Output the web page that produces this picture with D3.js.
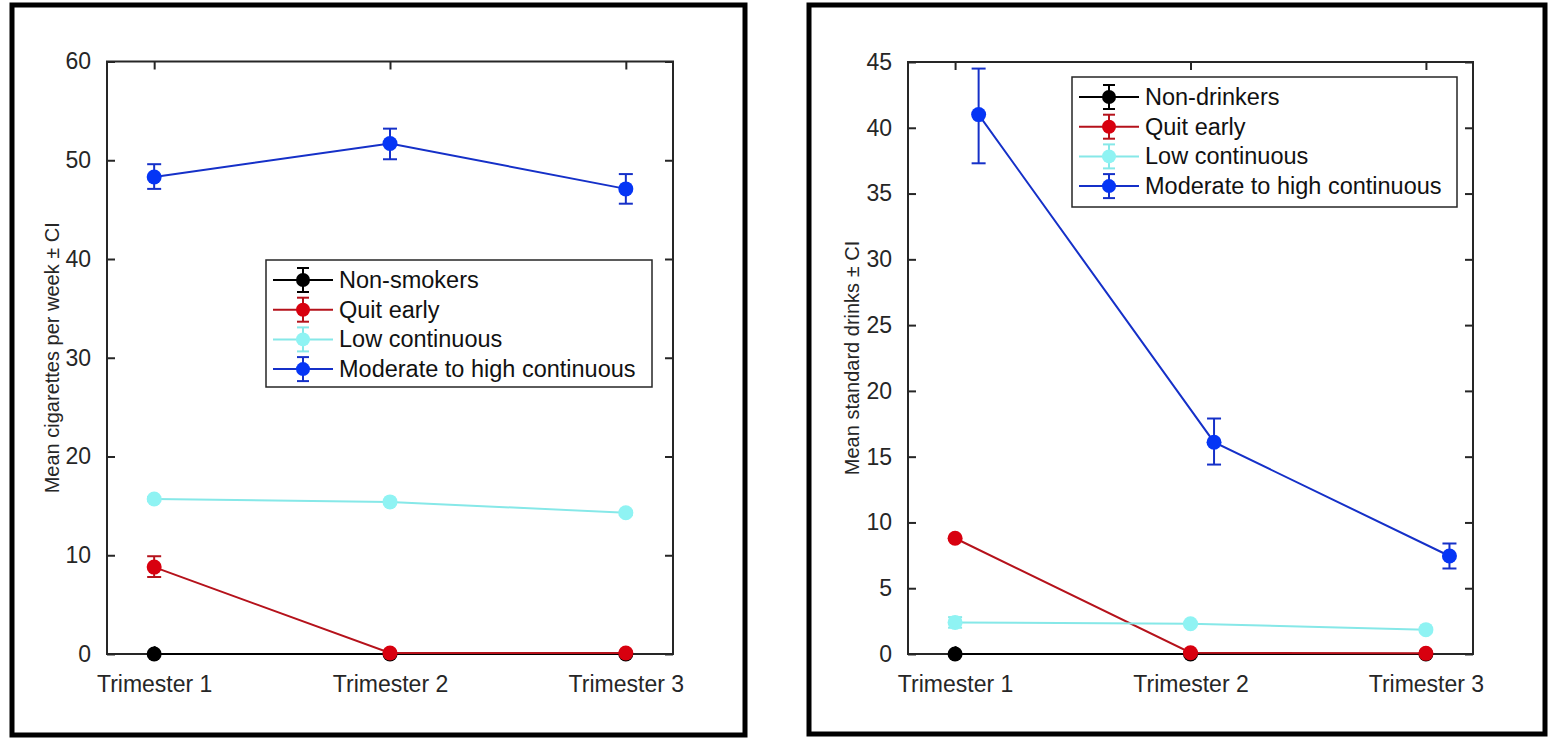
<!DOCTYPE html>
<html>
<head>
<meta charset="utf-8">
<script src="https://cdn.jsdelivr.net/npm/d3@7"></script>
<style>
  html, body { margin: 0; padding: 0; background: #fff; }
  svg { display: block; font-family: "Liberation Sans", Arial, Helvetica, sans-serif; }
</style>
</head>
<body>
<svg id="chart" width="1556" height="742"></svg>
<script>
// ---------- data ----------
const trimesters = ["Trimester 1", "Trimester 2", "Trimester 3"];
const smokingGroups = ["Non-smokers", "Quit early", "Low continuous", "Moderate to high continuous"];
const drinkingGroups = ["Non-drinkers", "Quit early", "Low continuous", "Moderate to high continuous"];

// cigarettes per week: means and CI bounds per group (rows) per trimester (cols)
const cigMeans = [[0, 0, 0], [8.8, 0.1, 0.1], [15.7, 15.4, 14.3], [48.3, 51.7, 47.1]];
const cigLower = [[0, 0, 0], [7.8, 0.05, 0.05], [15.5, 15.2, 14.1], [47.1, 50.1, 45.6]];
const cigUpper = [[0, 0, 0], [9.9, 0.15, 0.15], [15.9, 15.6, 14.5], [49.6, 53.2, 48.6]];
const cigXOffset = [0, 0, 0, 0];
const cigTicks = [0, 10, 20, 30, 40, 50, 60];

// standard drinks
const drinkMeans = [[0, 0, 0], [8.8, 0.1, 0.05], [2.4, 2.3, 1.85], [41.0, 16.1, 7.45]];
const drinkLower = [[0, 0, 0], [8.7, 0.05, 0.02], [2.0, 2.2, 1.75], [37.3, 14.4, 6.5]];
const drinkUpper = [[0, 0, 0], [8.9, 0.15, 0.08], [2.8, 2.4, 1.95], [44.5, 17.9, 8.4]];
const drinkXOffset = [0, 0, 0, 0.1];
const drinkTicks = [0, 5, 10, 15, 20, 25, 30, 35, 40, 45];

// ---------- styles ----------
const lineColors = ["#000000", "#b5121b", "#86e8e8", "#1530c8"];
const markerColors = ["#000000", "#d8000f", "#8ff3f3", "#0535f5"];
const axisColor = "#262626";

const svg = d3.select("#chart");

function drawPanel(opts) {
  const g = svg.append("g");
  // outer frame
  g.append("rect")
    .attr("x", opts.frame[0]).attr("y", opts.frame[1])
    .attr("width", opts.frame[2]).attr("height", opts.frame[3])
    .attr("fill", "none").attr("stroke", "#000").attr("stroke-width", 5);

  const x = d3.scaleLinear().domain([0.8, 3.2]).range([opts.left, opts.right]);
  const y = d3.scaleLinear().domain(opts.yDomain).range([opts.bottom, opts.top]);
  const xVals = [1, 2, 3];

  // axes box
  g.append("rect")
    .attr("x", opts.left).attr("y", opts.top)
    .attr("width", opts.right - opts.left).attr("height", opts.bottom - opts.top)
    .attr("fill", "none").attr("stroke", axisColor).attr("stroke-width", 2);

  const tickLen = 8;
  const yAxisL = d3.axisLeft(y).tickValues(opts.ticks).tickSize(-tickLen).tickPadding(tickLen + 8);
  const gl = g.append("g").attr("transform", `translate(${opts.left},0)`).call(yAxisL);
  const yAxisR = d3.axisRight(y).tickValues(opts.ticks).tickSize(-tickLen).tickFormat("");
  const gr = g.append("g").attr("transform", `translate(${opts.right},0)`).call(yAxisR);
  const xAxisB = d3.axisBottom(x).tickValues(xVals).tickSize(-tickLen).tickPadding(tickLen + 14)
    .tickFormat((d, i) => trimesters[i]);
  const gb = g.append("g").attr("transform", `translate(0,${opts.bottom})`).call(xAxisB);
  const xAxisT = d3.axisTop(x).tickValues(xVals).tickSize(-tickLen).tickFormat("");
  const gt = g.append("g").attr("transform", `translate(0,${opts.top})`).call(xAxisT);

  [gl, gr, gb, gt].forEach(a => {
    a.select(".domain").remove();
    a.selectAll(".tick line").attr("stroke", axisColor).attr("stroke-width", 2);
    a.selectAll(".tick text").attr("fill", axisColor).attr("font-size", 23)
      .attr("font-family", "Liberation Sans, Arial, sans-serif");
  });

  // y label
  g.append("text")
    .attr("transform", `translate(${opts.ylabelX},${(opts.top + opts.bottom) / 2}) rotate(-90)`)
    .attr("text-anchor", "middle").attr("dominant-baseline", "central")
    .attr("font-size", 20).attr("fill", axisColor)
    .text(opts.ylabel);

  // series
  opts.means.forEach((row, si) => {
    const pts = row.map((m, j) => ({
      x: xVals[j] + opts.xOffset[si], m: m, lo: opts.lower[si][j], hi: opts.upper[si][j]
    }));
    const sg = g.append("g");
    sg.append("path")
      .attr("d", d3.line().x(d => x(d.x)).y(d => y(d.m))(pts))
      .attr("fill", "none").attr("stroke", lineColors[si]).attr("stroke-width", 2);
    const eb = sg.selectAll("g.eb").data(pts.filter(d => d.hi - d.lo > 0)).join("g");
    eb.append("line").attr("x1", d => x(d.x)).attr("x2", d => x(d.x))
      .attr("y1", d => y(d.lo)).attr("y2", d => y(d.hi))
      .attr("stroke", lineColors[si]).attr("stroke-width", 2);
    [d => d.lo, d => d.hi].forEach(acc => {
      eb.append("line").attr("x1", d => x(d.x) - 7).attr("x2", d => x(d.x) + 7)
        .attr("y1", d => y(acc(d))).attr("y2", d => y(acc(d)))
        .attr("stroke", lineColors[si]).attr("stroke-width", 2);
    });
    sg.selectAll("circle").data(pts).join("circle")
      .attr("cx", d => x(d.x)).attr("cy", d => y(d.m)).attr("r", 7.5)
      .attr("fill", markerColors[si]);
  });

  // legend
  const lg = g.append("g");
  lg.append("rect")
    .attr("x", opts.legend[0]).attr("y", opts.legend[1])
    .attr("width", opts.legend[2]).attr("height", opts.legend[3])
    .attr("fill", "#fff").attr("stroke", axisColor).attr("stroke-width", 1.5);
  const rowH = 29.7;
  opts.groups.forEach((name, i) => {
    const cy = opts.legend[1] + 20 + i * rowH;
    const x0 = opts.legend[0] + 7;
    const cx = x0 + 30;
    lg.append("line").attr("x1", x0).attr("x2", x0 + 60).attr("y1", cy).attr("y2", cy)
      .attr("stroke", lineColors[i]).attr("stroke-width", 2);
    lg.append("line").attr("x1", cx).attr("x2", cx).attr("y1", cy - 12).attr("y2", cy + 12)
      .attr("stroke", lineColors[i]).attr("stroke-width", 2);
    [-12, 12].forEach(dy => lg.append("line").attr("x1", cx - 6).attr("x2", cx + 6)
      .attr("y1", cy + dy).attr("y2", cy + dy).attr("stroke", lineColors[i]).attr("stroke-width", 2));
    lg.append("circle").attr("cx", cx).attr("cy", cy).attr("r", 7).attr("fill", markerColors[i]);
    lg.append("text").attr("x", x0 + 66).attr("y", cy).attr("dominant-baseline", "central")
      .attr("font-size", 23.5).attr("fill", "#111").text(name);
  });
}

drawPanel({
  frame: [12, 5, 733, 730],
  left: 107, right: 673, top: 61.5, bottom: 654,
  yDomain: [0, 60], ticks: cigTicks,
  ylabel: "Mean cigarettes per week \u00b1 CI", ylabelX: 52,
  means: cigMeans, lower: cigLower, upper: cigUpper, xOffset: cigXOffset,
  groups: smokingGroups,
  legend: [266, 260, 386, 127]
});

drawPanel({
  frame: [809, 5, 736, 729],
  left: 908, right: 1473, top: 62, bottom: 654,
  yDomain: [0, 45], ticks: drinkTicks,
  ylabel: "Mean standard drinks \u00b1 CI", ylabelX: 852,
  means: drinkMeans, lower: drinkLower, upper: drinkUpper, xOffset: drinkXOffset,
  groups: drinkingGroups,
  legend: [1072, 77, 385, 130]
});
</script>
</body>
</html>
